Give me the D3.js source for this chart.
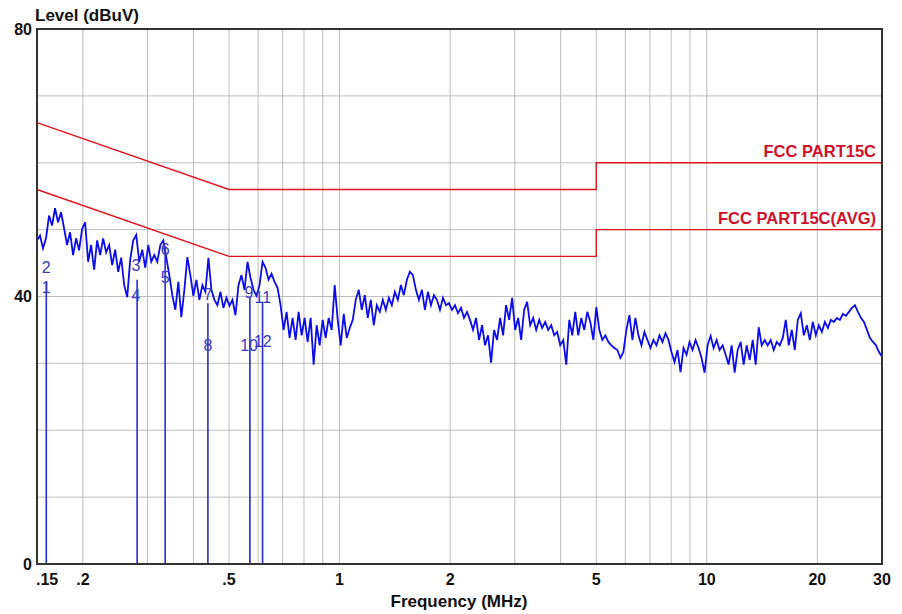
<!DOCTYPE html>
<html><head><meta charset="utf-8">
<script src="https://cdn.jsdelivr.net/npm/d3@7"></script>
<style>
html,body{margin:0;padding:0;background:#fff;}
svg{display:block;font-family:"Liberation Sans",Arial,sans-serif;}
</style></head>
<body><svg id="c" width="902" height="614"></svg>
<script>
// ---- data ----
const yTickLabels = [0, 40, 80];
const yGrid = [10, 20, 30, 40, 50, 60, 70];
const xGrid = [0.2,0.3,0.4,0.5,0.6,0.7,0.8,0.9,1,2,3,4,5,6,7,8,9,10,20];
const xTickLabels = [0.15, 0.2, 0.5, 1, 2, 5, 10, 20, 30];
const xTickText = [".15", ".2", ".5", "1", "2", "5", "10", "20", "30"];

const limitQPFreq  = [0.15, 0.5, 5, 5, 30];
const limitQPLevel = [66, 56, 56, 60, 60];
const limitAVFreq  = [0.15, 0.5, 5, 5, 30];
const limitAVLevel = [56, 46, 46, 50, 50];
const limitNames = ["FCC PART15C", "FCC PART15C(AVG)"];

// measured trace levels (dBuV), one per sweep point, 0.15 -> 30 MHz (log sweep)
const traceLevel = [
48.4,49.1,47.2,48.7,52.1,50.6,53.2,51.1,52.6,50.2,
47.7,49.6,46.2,48.7,46.9,50.1,51.1,45.2,47.7,44.0,
48.4,46.2,48.7,46.6,47.7,44.7,47.0,43.7,45.8,41.7,
39.9,45.5,48.4,49.2,45.2,47.0,44.3,47.7,45.2,46.2,
45.2,47.7,48.4,45.8,43.2,40.2,38.0,42.2,36.9,41.0,
45.9,43.2,40.1,42.5,39.5,41.7,40.7,45.8,41.0,39.5,
38.7,40.7,38.3,39.8,38.6,39.5,37.2,41.7,43.2,41.0,
45.2,42.8,41.0,40.1,41.7,45.2,44.3,42.5,43.4,42.2,
41.3,38.7,35.0,37.7,33.8,36.8,33.5,37.7,34.2,36.8,
33.2,36.8,29.8,35.7,32.7,36.5,33.8,36.8,35.0,41.7,
36.5,32.7,37.4,33.8,35.3,36.5,39.5,41.0,38.0,40.2,
36.8,39.5,35.7,38.7,37.7,39.5,38.0,39.8,38.7,40.7,
39.5,41.7,40.2,42.5,43.7,43.2,41.0,39.5,41.0,38.0,
40.7,38.7,40.2,39.5,38.0,39.8,38.7,39.0,38.0,38.7,
37.5,38.3,36.8,37.7,36.5,35.0,36.8,33.5,35.7,32.7,
34.2,30.1,35.0,33.5,36.8,34.2,38.7,36.5,39.8,35.0,
36.8,33.5,38.0,39.2,35.7,36.8,35.0,36.5,35.3,36.2,
35.0,35.7,34.2,34.7,32.7,33.5,29.8,36.5,34.2,37.7,
34.2,36.8,35.0,37.7,36.2,33.5,38.4,35.0,33.5,34.2,
33.2,32.7,32.3,32.0,30.8,31.7,35.0,37.2,33.5,36.8,
34.2,32.7,34.7,33.5,32.3,33.5,32.7,34.2,33.2,34.5,
33.5,31.7,30.2,32.0,28.7,32.3,31.3,33.2,32.0,33.5,
32.3,30.8,28.6,32.7,34.1,32.3,33.5,32.0,32.7,31.3,
29.8,32.7,28.6,32.0,33.2,29.8,32.7,30.5,33.5,29.8,
35.4,32.7,33.5,32.7,33.5,32.0,33.2,32.7,33.8,36.5,
32.7,35.0,32.0,36.5,37.5,34.2,35.7,33.5,36.2,34.2,
35.7,34.7,36.2,35.3,36.5,36.2,36.8,36.5,37.4,37.1,
37.7,38.3,38.7,37.7,36.8,36.2,35.0,33.8,33.2,32.7,31.7,31.0
];
const sweepStart = 0.15, sweepStop = 30;

// marker stems (frequency MHz, top level dBuV)
const stemFreq  = [0.159, 0.281, 0.335, 0.438, 0.570, 0.617];
const stemLevel = [42.2, 42.5, 47.5, 39.0, 39.9, 39.2];
// marker labels
const markerNo    = ["1","2","3","4","5","6","7","8","9","10","11","12"];
const markerFreq  = [0.159,0.159,0.279,0.279,0.335,0.335,0.438,0.438,0.567,0.567,0.618,0.618];
const markerLevel = [41.4,44.4,44.6,40.2,42.9,47.0,40.4,32.7,40.7,32.7,39.9,33.3];

// ---- layout ----
const L = 37, R = 882, T = 29, B = 564;
const svg = d3.select("#c");
const x = d3.scaleLog().domain([0.15, 30]).range([L, R]);
const y = d3.scaleLinear().domain([0, 80]).range([B, T]);

// grid
svg.append("g").selectAll("line").data(xGrid).join("line")
  .attr("x1", d => x(d)).attr("x2", d => x(d)).attr("y1", T).attr("y2", B)
  .attr("stroke", "#bdbdbd").attr("stroke-width", 1);
svg.append("g").selectAll("line").data(yGrid).join("line")
  .attr("x1", L).attr("x2", R).attr("y1", d => y(d)).attr("y2", d => y(d))
  .attr("stroke", "#bdbdbd").attr("stroke-width", 1);

// limit lines
const lineGen = d3.line().x(d => x(d[0])).y(d => y(d[1]));
[[limitQPFreq, limitQPLevel], [limitAVFreq, limitAVLevel]].forEach(([f, l]) => {
  svg.append("path").datum(f.map((v, i) => [v, l[i]]))
    .attr("d", lineGen).attr("fill", "none")
    .attr("stroke", "#e0141e").attr("stroke-width", 1.4);
});

// trace
const N = traceLevel.length;
const traceFreq = d3.range(N).map(i => sweepStart * Math.pow(sweepStop / sweepStart, i / (N - 1)));
svg.append("path").datum(traceLevel.map((v, i) => [traceFreq[i], v]))
  .attr("d", lineGen).attr("fill", "none")
  .attr("stroke", "#0c0ce8").attr("stroke-width", 1.8).attr("stroke-linejoin", "miter");

// marker stems
svg.append("g").selectAll("line").data(stemFreq).join("line")
  .attr("x1", d => x(d)).attr("x2", d => x(d))
  .attr("y1", B).attr("y2", (d, i) => y(stemLevel[i]))
  .attr("stroke", "#2a2ad0").attr("stroke-width", 1.6);

// marker labels
svg.append("g").selectAll("text").data(markerNo).join("text")
  .attr("x", (d, i) => x(markerFreq[i])).attr("y", (d, i) => y(markerLevel[i]))
  .attr("dy", "0.36em").attr("text-anchor", "middle")
  .attr("font-size", 16).attr("fill", "#3838c4").text(d => d);

// border
svg.append("rect").attr("x", L).attr("y", T).attr("width", R - L).attr("height", B - T)
  .attr("fill", "none").attr("stroke", "#333").attr("stroke-width", 2);

// limit labels
svg.append("text").attr("x", 876).attr("y", y(limitQPLevel[4]) - 6)
  .attr("text-anchor", "end").attr("font-size", 16.5).attr("font-weight", "bold")
  .attr("fill", "#d0102a").text(limitNames[0]);
svg.append("text").attr("x", 876).attr("y", y(limitAVLevel[4]) - 6)
  .attr("text-anchor", "end").attr("font-size", 16.5).attr("font-weight", "bold")
  .attr("fill", "#d0102a").text(limitNames[1]);

// y tick labels
svg.append("g").selectAll("text").data(yTickLabels).join("text")
  .attr("x", 32).attr("y", d => y(d)).attr("dy", "0.36em")
  .attr("text-anchor", "end").attr("font-size", 16).attr("font-weight", "bold")
  .attr("fill", "#111").text(d => d);

// x tick labels
svg.append("g").selectAll("text").data(xTickLabels).join("text")
  .attr("x", (d, i) => i === 0 ? x(d) - 1 : x(d)).attr("y", 585)
  .attr("text-anchor", (d, i) => i === 0 ? "start" : "middle")
  .attr("font-size", 16).attr("font-weight", "bold")
  .attr("fill", "#111").text((d, i) => xTickText[i]);

// axis titles
svg.append("text").attr("x", 35).attr("y", 21).attr("font-size", 17)
  .attr("font-weight", "bold").attr("fill", "#111").text("Level (dBuV)");
svg.append("text").attr("x", 459).attr("y", 607).attr("text-anchor", "middle")
  .attr("font-size", 17).attr("font-weight", "bold").attr("fill", "#111").text("Frequency (MHz)");
</script></body></html>
